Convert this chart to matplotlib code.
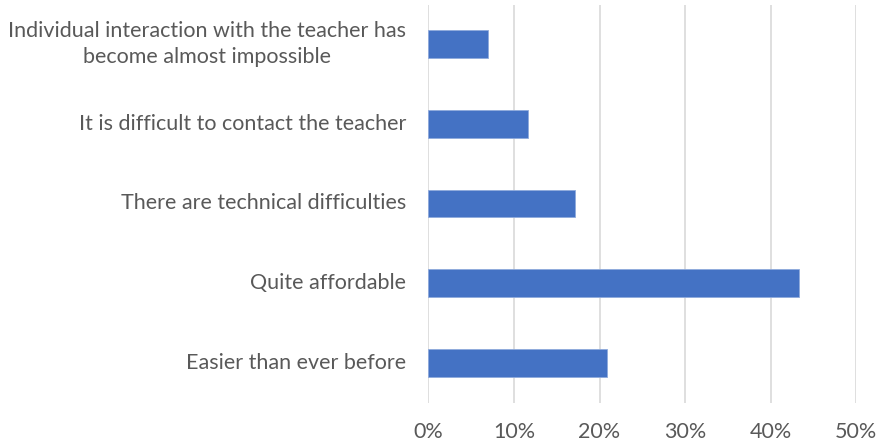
import matplotlib.pyplot as plt
from matplotlib.ticker import PercentFormatter

categories = [
    'Individual interaction with the teacher has\nbecome almost impossible',
    'It is difficult to contact the teacher',
    'There are technical difficulties',
    'Quite affordable',
    'Easier than ever before',
]
shares = [7.0, 11.6, 17.1, 43.3, 20.9]
x_ticks = [0, 10, 20, 30, 40, 50]

plt.rcParams['font.family'] = ['Lato', 'DejaVu Sans']

fig = plt.figure(figsize=(8.81, 4.45), dpi=100)
ax = fig.add_axes([428.3 / 881, 1 - 402.5 / 445, (856.3 - 428.3) / 881, 398 / 445])

pos = list(range(len(categories)))[::-1]
ax.barh(pos, shares, height=0.35, color='#4472c4', edgecolor='#8faadc', linewidth=0.6, zorder=3)

ax.set_xlim(0, 50)
ax.set_ylim(-0.5, len(categories) - 0.5)
ax.set_xticks(x_ticks)
ax.xaxis.set_major_formatter(PercentFormatter(decimals=0))
ax.set_yticks(pos)
ax.set_yticklabels(categories, ha='right', va='center', multialignment='center', linespacing=1.4)

ax.grid(axis='x', color='#d9d9d9', linewidth=1.2, zorder=0)
for s in ax.spines.values():
    s.set_visible(False)
ax.tick_params(axis='both', length=0, labelsize=15.5, colors='#595959')
ax.tick_params(axis='x', pad=14)
ax.tick_params(axis='y', pad=16)

fig.savefig('out.png', dpi=100)
